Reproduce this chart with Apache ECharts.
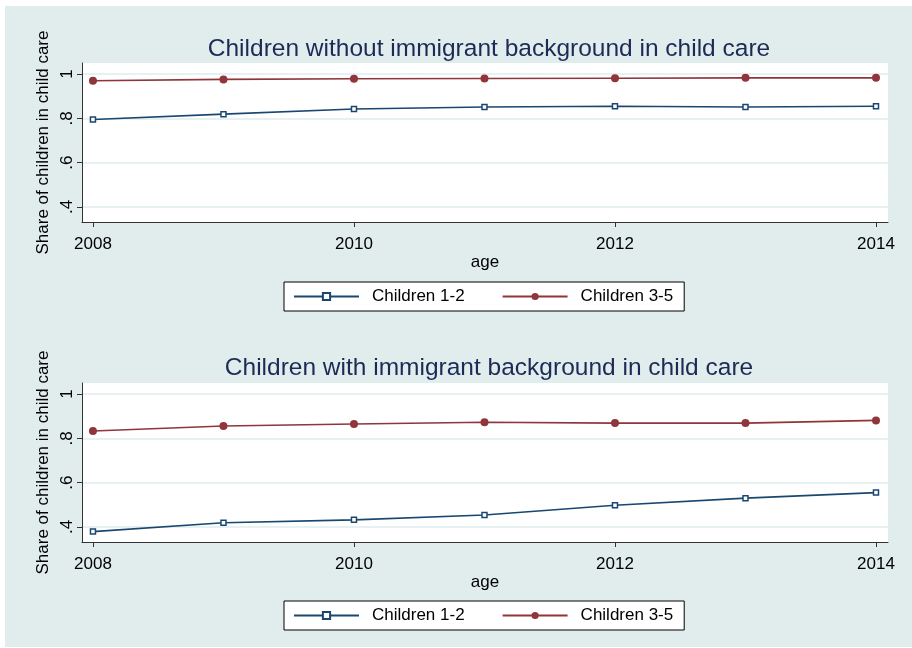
<!DOCTYPE html>
<html>
<head>
<meta charset="utf-8">
<script src="https://cdn.jsdelivr.net/npm/echarts@6/dist/echarts.min.js"></script>
<style>html,body{margin:0;padding:0;background:#fff}#c{width:912px;height:648px}</style>
</head>
<body>
<div id="c"></div>
<script>
const years = [2008, 2009, 2010, 2011, 2012, 2013, 2014];
const xTicks = [2008, 2010, 2012, 2014];
const yTicks = [0.4, 0.6, 0.8, 1];
const titles = ['Children without immigrant background in child care', 'Children with immigrant background in child care'];
const seriesNames = ['Children 1-2', 'Children 3-5'];
const native12 = [0.795, 0.819, 0.842, 0.851, 0.855, 0.851, 0.855];
const native35 = [0.970, 0.976, 0.979, 0.980, 0.981, 0.983, 0.983];
const immig12 = [0.379, 0.419, 0.432, 0.454, 0.498, 0.530, 0.555];
const immig35 = [0.833, 0.856, 0.865, 0.873, 0.869, 0.869, 0.881];

const BLUE = '#1a476f', RED = '#90353b', BG = '#e1ecec';
const FONT = '"Liberation Sans", Arial, sans-serif';
const pair = arr => years.map((y, i) => [y, arr[i]]);

const grids = [
  { left: 82, top: 63, width: 806, height: 159 },
  { left: 82, top: 383, width: 806, height: 159 }
];

function xAx(i) {
  return {
    type: 'value', gridIndex: i, min: 2007.916, max: 2014.092,
    name: 'age', nameLocation: 'middle', nameGap: 32,
    nameTextStyle: { fontFamily: FONT, fontSize: 17, color: '#000' },
    axisLine: { show: true, lineStyle: { color: '#333', width: 1 } },
    axisTick: { show: true, customValues: xTicks, length: 5, lineStyle: { color: '#333' } },
    axisLabel: { customValues: xTicks, margin: 14, fontFamily: FONT, fontSize: 17, color: '#000', formatter: v => String(v) },
    splitLine: { show: false }
  };
}
function yAx(i) {
  return {
    type: 'value', gridIndex: i, min: 0.332, max: 1.05,
    name: 'Share of children in child care', nameLocation: 'middle', nameGap: 30, nameRotate: 90,
    nameMoveOverlap: false,
    nameTextStyle: { fontFamily: FONT, fontSize: 17, color: '#000' },
    axisLine: { show: true, lineStyle: { color: '#333', width: 1 } },
    axisTick: { show: true, customValues: yTicks, length: 5, lineStyle: { color: '#333' } },
    axisLabel: { customValues: yTicks, rotate: 90, margin: 6, fontFamily: FONT, fontSize: 17, color: '#000',
      formatter: v => (Math.abs(v - 1) < 1e-9 ? '1' : String(+v.toFixed(2)).replace(/^0/, '')) },
    splitLine: { show: true, lineStyle: { color: BG, width: 1.5 } }
  };
}
function legend(top) {
  return {
    left: 284, top: top, orient: 'horizontal',
    backgroundColor: '#fff', borderColor: '#000', borderWidth: 1, borderRadius: 0,
    padding: [6, 11, 6, 9], itemGap: 37, itemWidth: 65, itemHeight: 9,
    textStyle: { fontFamily: FONT, fontSize: 17, color: '#000', padding: [0, 0, 0, 8] },
    data: seriesNames
  };
}
function lineSeries(name, data, gi, color, isSquare) {
  return {
    name: name, type: 'line', xAxisIndex: gi, yAxisIndex: gi, data: pair(data),
    symbol: isSquare ? 'rect' : 'circle', symbolSize: isSquare ? 5 : 8,
    lineStyle: { color: color, width: 1.6 },
    itemStyle: isSquare ? { color: '#fff', borderColor: color, borderWidth: 1.5 } : { color: color, borderWidth: 0 },
    animation: false
  };
}

const chart = echarts.init(document.getElementById('c'), null, { renderer: 'canvas' });
chart.setOption({
  backgroundColor: '#fff',
  animation: false,
  graphic: [{ type: 'rect', shape: { x: 5, y: 6, width: 907, height: 641 }, style: { fill: BG }, z: -10, silent: true }],
  title: [
    { text: titles[0], left: 484, top: 32, textAlign: 'center', textStyle: { fontFamily: FONT, fontSize: 24.5, fontWeight: 'normal', color: '#1c2b56' } },
    { text: titles[1], left: 484, top: 351, textAlign: 'center', textStyle: { fontFamily: FONT, fontSize: 24.5, fontWeight: 'normal', color: '#1c2b56' } }
  ],
  grid: grids.map(g => Object.assign({ show: true, backgroundColor: '#fff', borderWidth: 0 }, g)),
  xAxis: [xAx(0), xAx(1)],
  yAxis: [yAx(0), yAx(1)],
  legend: [legend(282), legend(601)],
  series: [
    lineSeries(seriesNames[0], native12, 0, BLUE, true),
    lineSeries(seriesNames[1], native35, 0, RED, false),
    lineSeries(seriesNames[0], immig12, 1, BLUE, true),
    lineSeries(seriesNames[1], immig35, 1, RED, false)
  ]
});
</script>
</body>
</html>
